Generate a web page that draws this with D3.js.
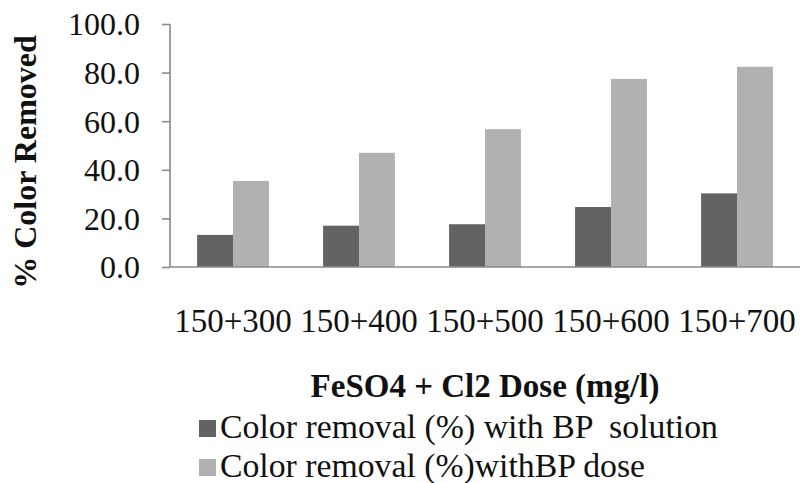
<!DOCTYPE html>
<html>
<head>
<meta charset="utf-8">
<script src="https://cdn.jsdelivr.net/npm/d3@7"></script>
<style>
  html, body { margin: 0; padding: 0; background: #fff; }
  svg { display: block; }
</style>
</head>
<body>
<svg id="chart" width="800" height="483"></svg>
<script>
// Dose combinations (FeSO4 + Cl2, mg/l)
const categories = ["150+300", "150+400", "150+500", "150+600", "150+700"];
// Colour removal, %
const seriesNames = ["Color removal (%) with BP  solution", "Color removal (%)withBP dose"];
const withSolution = [13.2, 17.0, 17.6, 24.7, 30.3];
const withDose = [35.4, 47.0, 56.7, 77.4, 82.4];
const yTicks = [0, 20, 40, 60, 80, 100];
const colors = ["#636363", "#b1b1b1"];

const svg = d3.select("#chart");
const fontFamily = "\"Liberation Serif\", \"Times New Roman\", serif";
const plot = { left: 170, right: 800, top: 24, bottom: 267 };

const x0 = d3.scaleBand().domain(categories).range([plot.left, plot.right])
  .paddingInner(0.43).paddingOuter(0.215);
const x1 = d3.scaleBand().domain([0, 1]).range([0, x0.bandwidth()]);
const y = d3.scaleLinear().domain([0, 100]).range([plot.bottom, plot.top]);

const rows = categories.map((c, i) => ({ cat: c, vals: [withSolution[i], withDose[i]] }));

// Bars
const groups = svg.append("g").selectAll("g").data(rows).join("g")
  .attr("transform", d => `translate(${x0(d.cat)},0)`);
groups.selectAll("rect").data(d => d.vals.map((v, k) => ({ v, k }))).join("rect")
  .attr("x", d => x1(d.k))
  .attr("width", x1.bandwidth())
  .attr("y", d => y(d.v))
  .attr("height", d => y(0) - y(d.v))
  .attr("fill", d => colors[d.k]);

// Y axis
const yAxis = svg.append("g").attr("transform", `translate(${plot.left},0)`)
  .call(d3.axisLeft(y).tickValues(yTicks).tickFormat(d3.format(".1f")).tickSize(8).tickPadding(22));
yAxis.attr("font-family", fontFamily).attr("font-size", 32);
yAxis.select(".domain").attr("stroke", "#8a8a8a").attr("stroke-width", 1.6)
  .attr("d", `M0,${plot.top}V${plot.bottom}`);
yAxis.selectAll(".tick line").attr("stroke", "#8a8a8a").attr("stroke-width", 1.6);
yAxis.selectAll(".tick text").style("font-family", fontFamily).style("font-size", "32px")
  .attr("fill", "#111").attr("dy", "0.34em");

// X axis
const xAxis = svg.append("g").attr("transform", `translate(0,${plot.bottom})`)
  .call(d3.axisBottom(x0).tickSize(0).tickPadding(0));
xAxis.attr("font-family", fontFamily).attr("font-size", 33);
xAxis.select(".domain").attr("stroke", "#8a8a8a").attr("stroke-width", 1.6)
  .attr("d", `M${plot.left},0H${plot.right}`);
xAxis.selectAll(".tick text").style("font-family", fontFamily).style("font-size", "33px")
  .attr("fill", "#111").attr("dy", null).attr("y", 65);

// Axis titles
svg.append("text")
  .attr("transform", "translate(36,162) rotate(-90)")
  .attr("text-anchor", "middle")
  .style("font-family", fontFamily).style("font-weight", "bold").style("font-size", "32px")
  .attr("fill", "#111")
  .text("% Color Removed");

svg.append("text")
  .attr("x", (plot.left + plot.right) / 2).attr("y", 397)
  .attr("text-anchor", "middle")
  .style("font-family", fontFamily).style("font-weight", "bold").style("font-size", "33px")
  .attr("fill", "#111")
  .text("FeSO4 + Cl2 Dose (mg/l)");

// Legend
const legendWidths = [498, 425];
const legend = svg.append("g").selectAll("g").data(seriesNames).join("g")
  .attr("transform", (d, i) => `translate(199,${438 + i * 39})`);
legend.append("rect").attr("x", 0).attr("y", -18).attr("width", 17).attr("height", 17)
  .attr("fill", (d, i) => colors[i]);
legend.append("text").attr("x", 21).attr("y", 0)
  .style("font-family", fontFamily).style("font-size", "33px").attr("fill", "#111")
  .style("white-space", "pre")
  .attr("textLength", (d, i) => legendWidths[i])
  .attr("lengthAdjust", "spacingAndGlyphs")
  .text(d => d);
</script>
</body>
</html>
